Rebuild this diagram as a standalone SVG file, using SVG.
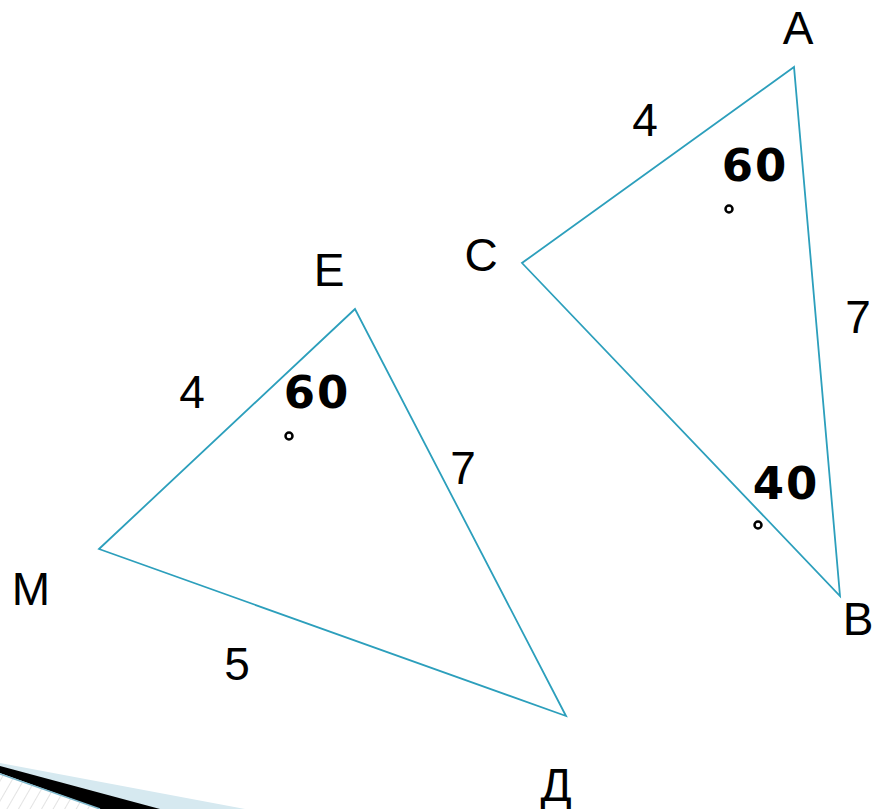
<svg xmlns="http://www.w3.org/2000/svg" width="874" height="809" viewBox="0 0 874 809">
<style>
.tri{fill:none;stroke:#2c9fbc;stroke-width:1.8;stroke-linejoin:miter}
.lbl{font-family:"Liberation Sans",Arial,sans-serif;font-size:46px;fill:#000}
.ang{font-family:"DejaVu Sans",sans-serif;font-weight:bold;font-size:45px;letter-spacing:2px;fill:#000}
.deg{fill:none;stroke:#000;stroke-width:2.5}
</style>
<defs>
<pattern id="hatch" patternUnits="userSpaceOnUse" width="10" height="10" patternTransform="rotate(30)">
<rect width="10" height="10" fill="#fff"/>
<line x1="0" y1="0" x2="0" y2="10" stroke="#c8c8c8" stroke-width="1"/>
</pattern>
</defs>
<g id="decor">
<polygon points="0,763 245,809 0,809" fill="#d6e9f0"/>
<polygon points="0,774 100,809 0,809" fill="url(#hatch)"/>
<polygon points="0,766 160,809 100,809 0,773" fill="#000"/>
<line x1="0" y1="774" x2="100" y2="809" stroke="#7fb8cc" stroke-width="1.5"/>
</g>
<g id="triangle-EMD">
<polygon class="tri" points="355,309 99,549 566,716"/>
</g>
<g id="triangle-ACB">
<polygon class="tri" points="794,67 522,263 840,596"/>
</g>
<g id="labels">
<text class="lbl" x="798" y="44" text-anchor="middle">A</text>
<text class="lbl" x="481" y="271" text-anchor="middle">C</text>
<text class="lbl" x="858" y="635" text-anchor="middle">B</text>
<text class="lbl" x="329" y="286" text-anchor="middle">E</text>
<text class="lbl" x="31" y="605" text-anchor="middle">M</text>
<text class="lbl" x="556" y="801" text-anchor="middle">Д</text>
<text class="lbl" x="645" y="136" text-anchor="middle">4</text>
<text class="lbl" x="858" y="333" text-anchor="middle">7</text>
<text class="lbl" x="192" y="408" text-anchor="middle">4</text>
<text class="lbl" x="463" y="484" text-anchor="middle">7</text>
<text class="lbl" x="237" y="680" text-anchor="middle">5</text>
<text class="ang" x="755" y="181" text-anchor="middle">60</text>
<text class="ang" x="317" y="408" text-anchor="middle">60</text>
<text class="ang" x="786" y="499" text-anchor="middle">40</text>
<circle class="deg" cx="729" cy="209" r="3.5"/>
<circle class="deg" cx="289" cy="436" r="3.5"/>
<circle class="deg" cx="758" cy="525" r="3.5"/>
</g>
</svg>
